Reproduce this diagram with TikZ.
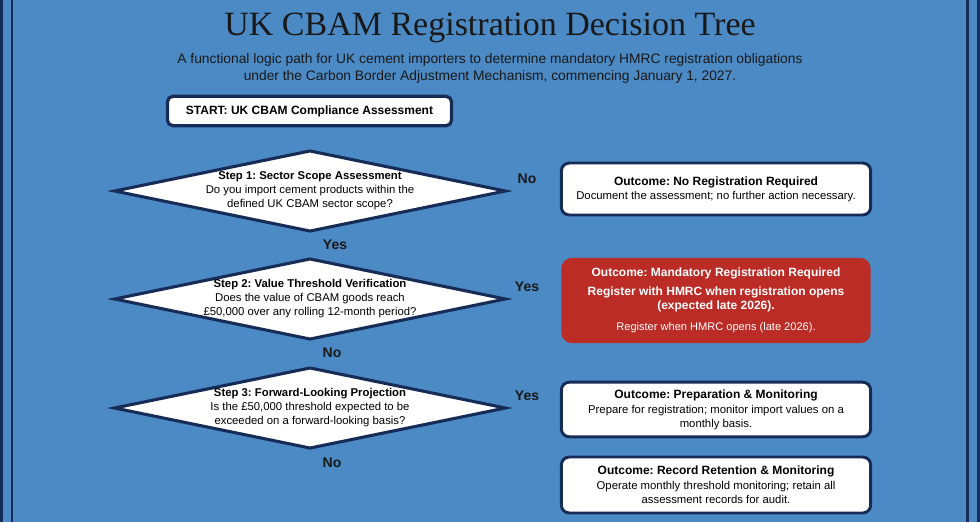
\documentclass[tikz,border=0pt]{standalone}
\usepackage{fontspec}
\setmainfont{Liberation Sans}
\newfontfamily\titlefont{Liberation Serif}
\usetikzlibrary{shapes.geometric}
\definecolor{bgblue}{RGB}{75,138,197}
\definecolor{navy}{RGB}{22,44,86}
\definecolor{alertred}{RGB}{188,44,38}
\frenchspacing
% question text of a step, kept out of the diamond's size
\newcommand{\stepq}[2]{\makebox[0pt]{\begin{tabular}{@{}c@{}}\textbf{#1}\\#2\end{tabular}}}

\begin{document}
\begin{tikzpicture}[x=0.75pt, y=-0.75pt,
  font=\fontsize{8.5}{10.5}\selectfont,
    dec/.style={shape=diamond, draw=navy, line width=2.3pt, fill=white, aspect=4.8,
                inner sep=0pt, minimum width=294pt, minimum height=61pt},
    outbox/.style={draw=navy, line width=2.2pt, fill=white, rounded corners=6pt,
                minimum width=232pt, align=center},
    startbox/.style={draw=navy, line width=2.4pt, fill=white, rounded corners=4pt,
                minimum width=213pt, minimum height=22pt, font=\bfseries\fontsize{9}{11}\selectfont},
    ans/.style={font=\bfseries\fontsize{10.5}{12}\selectfont, text=black!90},
]
\useasboundingbox (0,0) rectangle (980,522);
\fill[bgblue] (0,0) rectangle (980,522);
% frame lines at the sides
\draw[navy, line width=2.4pt] (1.7,0) -- (1.7,522);
\draw[navy, line width=1.8pt] (12.2,0) -- (12.2,522);
\draw[navy, line width=2.2pt] (967.5,0) -- (967.5,522);
\draw[navy, line width=2.2pt] (978.5,0) -- (978.5,522);

\node[font=\titlefont\fontsize{25.5}{28}\selectfont, text=black!90] (title) at (490,28) {UK CBAM Registration Decision Tree};
\node[font=\fontsize{10.35}{12.75}\selectfont, align=center, text=black!90] (sub) at (490,68)
  {A functional logic path for UK cement importers to determine mandatory HMRC registration obligations\\
   under the Carbon Border Adjustment Mechanism, commencing January 1, 2027.};

\node[startbox] (start) at (309.5,111) {START: UK CBAM Compliance Assessment};

\node[dec] (d1) at (310,191) {\stepq{Step 1: Sector Scope Assessment}
  {Do you import cement products within the\\defined UK CBAM sector scope?}};
\node[dec] (d2) at (310,299) {\stepq{Step 2: Value Threshold Verification}
  {Does the value of CBAM goods reach\\\pounds50,000 over any rolling 12-month period?}};
\node[dec] (d3) at (310,408) {\stepq{Step 3: Forward-Looking Projection}
  {Is the \pounds50,000 threshold expected to be\\exceeded on a forward-looking basis?}};

\node[ans] (d1no) at (527,179) {No};
\node[ans] (d1yes) at (335,245) {Yes};
\node[ans] (d2yes) at (527,287) {Yes};
\node[ans] (d2no) at (332,353) {No};
\node[ans] (d3yes) at (527,396) {Yes};
\node[ans] (d3no) at (332,463) {No};

\node[outbox, minimum height=39pt] (o1) at (716,189)
  {\textbf{\fontsize{9}{11}\selectfont Outcome: No Registration Required}\\
   Document the assessment; no further action necessary.};
\node[outbox, draw=none, fill=alertred, rounded corners=8pt, minimum height=64pt, text=white] (o2) at (716,300.5)
  {\textbf{\fontsize{9}{11}\selectfont Outcome: Mandatory Registration Required}\\[3.5pt]
   \textbf{\fontsize{9}{11}\selectfont Register with HMRC when registration opens}\\
   \textbf{\fontsize{9}{11}\selectfont (expected late 2026).}\\[5.5pt]
   {\fontsize{8.3}{10}\selectfont Register when HMRC opens (late 2026).}};
\node[outbox, minimum height=41pt] (o3) at (716,409.5)
  {\textbf{\fontsize{9}{11}\selectfont Outcome: Preparation \& Monitoring}\\[1pt]
   Prepare for registration; monitor import values on a\\monthly basis.};
\node[outbox, minimum height=42pt] (o4) at (716,485)
  {\textbf{\fontsize{9}{11}\selectfont Outcome: Record Retention \& Monitoring}\\[1pt]
   Operate monthly threshold monitoring; retain all\\assessment records for audit.};
\end{tikzpicture}
\end{document}
